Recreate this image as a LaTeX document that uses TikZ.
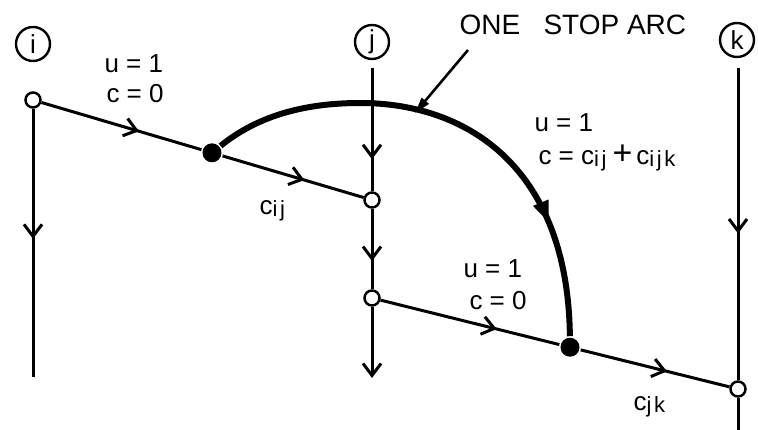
\documentclass[tikz,border=0pt]{standalone}
\usepackage{fontspec}
\setmainfont{Liberation Sans}
\usetikzlibrary{arrows.meta,decorations.markings,calc}
\newcommand\subsc[1]{\raisebox{-2pt}{\fontsize{22}{22}\selectfont\addfontfeatures{LetterSpace=12} #1}}
\begin{document}
\begin{tikzpicture}[x=1pt,y=-1pt, line width=3pt,
  lab/.style={circle, draw, line width=2.4pt, minimum size=34pt, inner sep=0pt, font=\fontsize{26}{26}\selectfont},
  opn/.style={circle, draw, fill=white, line width=2.5pt, minimum size=15pt, inner sep=0pt},
  dotf/.style={circle, fill, minimum size=19pt, inner sep=0pt},
  txt/.style={font=\fontsize{26}{30}\selectfont, inner sep=0pt, anchor=base west},
  midarrow/.style={postaction={decorate}, decoration={markings, mark=at position #1 with {\arrow{Straight Barb[length=12pt,width=18pt]}}}},
  endarrow/.style={-{Straight Barb[length=12pt,width=18pt]}},
  arcline/.style={line width=6pt, postaction={decorate}, decoration={markings, mark=at position #1 with {\arrow{Triangle[length=22pt,width=15pt]}}}}
]
\useasboundingbox (0,0) rectangle (758,430);
% column nodes
\node[lab] (labi) at (33,44) {i};
\node[opn] (oi) at (33,100) {};
\coordinate (endi) at (33,377);
\node[lab] (labj) at (372,42) {j};
\coordinate (jt) at (372,68);
\node[opn] (oj1) at (372,200) {};
\node[opn] (oj2) at (372,298) {};
\coordinate (endj) at (372,378);
\node[lab] (labk) at (737,40) {k};
\coordinate (kt) at (738,68);
\node[opn] (ok) at (738,389) {};
\coordinate (endk) at (738,430);
\node[dotf] (d1) at ($(oi)!0.528!(oj1)$) {};
\node[dotf] (d2) at ($(oj2)!0.541!(ok)$) {};
% vertical lines
\draw[midarrow=0.485] (oi) -- (endi);
\draw[midarrow=0.74] (jt) -- (oj1);
\draw[midarrow=0.65] (oj1) -- (oj2);
\draw[endarrow] (oj2) -- (endj);
\draw[midarrow=0.53] (kt) -- (ok);
\draw (ok) -- (endk);
% sloped lines
\draw[midarrow=0.61] (oi) -- (d1);
\draw[midarrow=0.58] (d1) -- (oj1);
\draw[midarrow=0.65] (oj2) -- (d2);
\draw[midarrow=0.58] (d2) -- (ok);
% one stop arc
\draw[arcline=0.77] (d1) .. controls (255,118) and (300,103) .. (360,103)
  .. controls (470,103) and (568,170) .. (d2);
\coordinate (ptr) at (468,50);
\coordinate (arcpt) at (415,113);
\draw[line width=2.6pt, -{Triangle[length=16pt,width=9pt]}] (ptr) -- (arcpt);
% labels
\node[txt, font=\fontsize{28}{30}\selectfont] (title) at (458,35) {ONE\ \ \ STOP ARC};
\node[txt] (u1) at (103,73) {u = 1};
\node[txt] (c1) at (105,103) {c = 0};
\node[txt] (cij) at (258,215) {c\subsc{ij}};
\node[txt] (u2) at (462,278) {u = 1};
\node[txt] (c2) at (468,310) {c = 0};
\node[txt] (u3) at (533,132) {u = 1};
\node[txt] (c3) at (537,165) {c = c\subsc{ij}\hspace{6pt}{\fontsize{34}{34}\selectfont +}\hspace{4pt}c\subsc{ijk}};
\node[txt] (cjk) at (632,410) {c\subsc{jk}};
\end{tikzpicture}
\end{document}
